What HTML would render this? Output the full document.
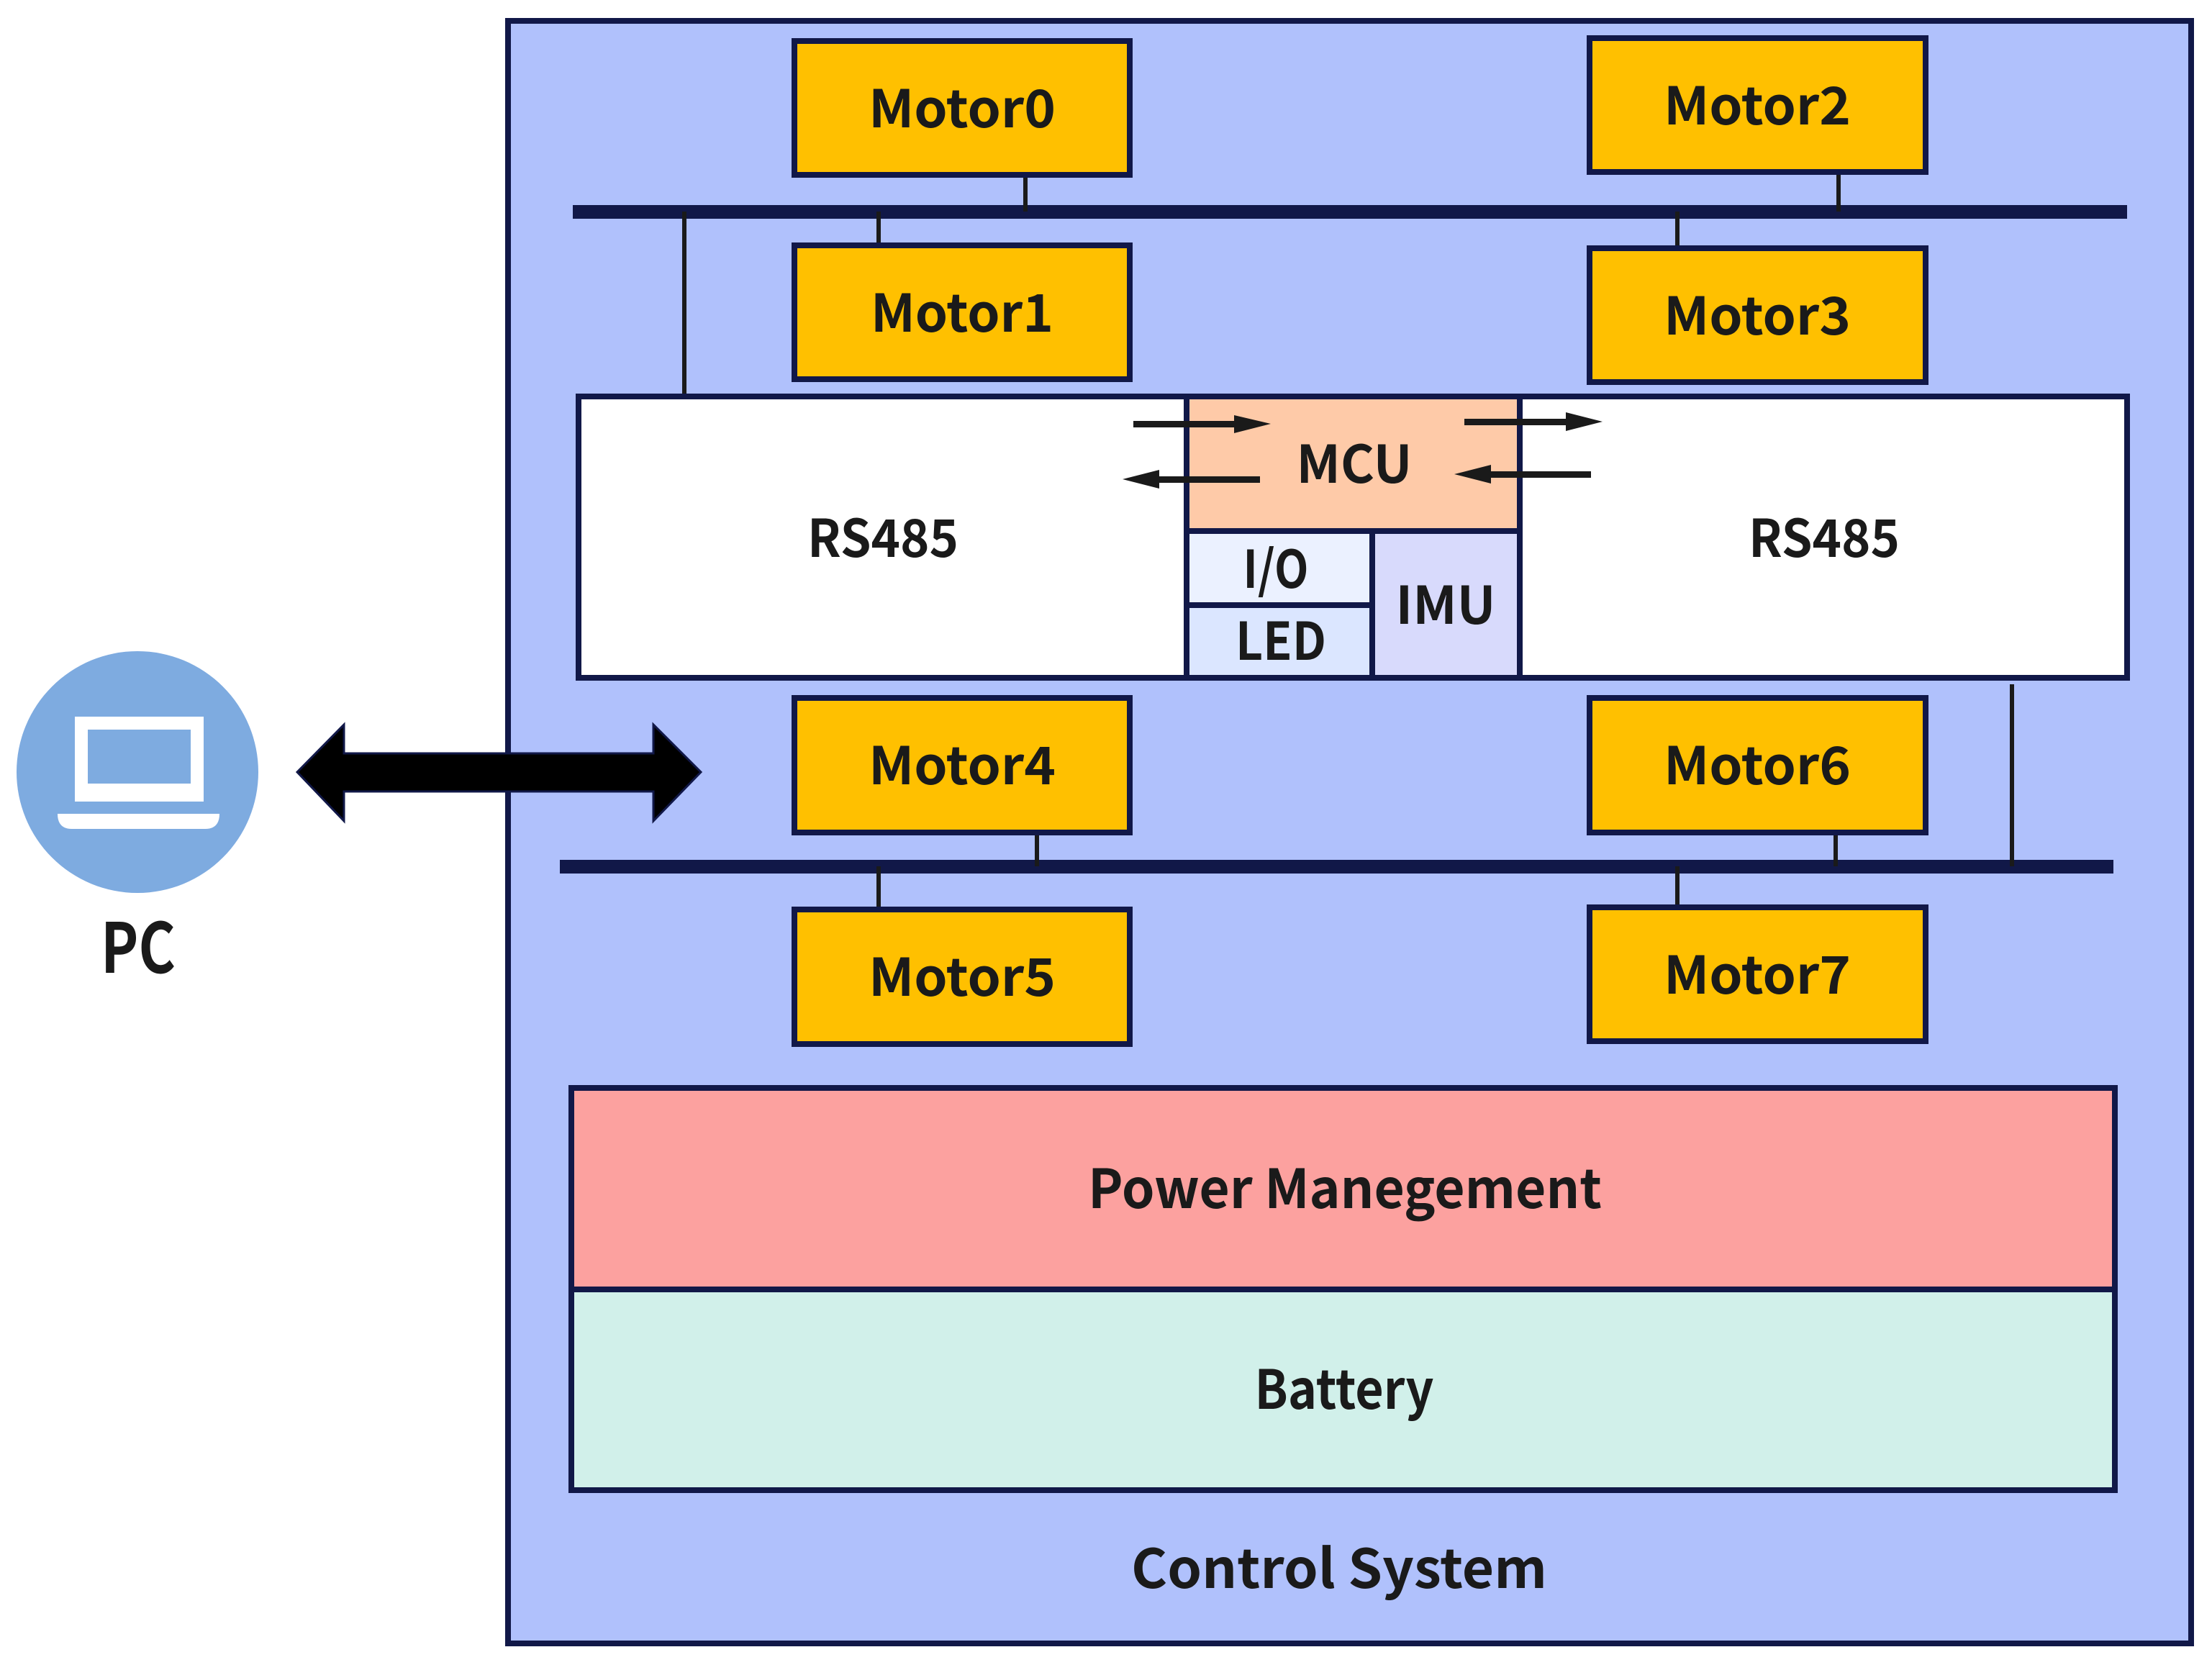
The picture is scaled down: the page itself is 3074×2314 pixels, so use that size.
<!DOCTYPE html>
<html><head><meta charset="utf-8"><style>html,body{margin:0;padding:0;background:#fff}svg{display:block}</style></head>
<body>
<svg width="3074" height="2314" viewBox="0 0 3074 2314" xmlns="http://www.w3.org/2000/svg" font-family="'Noto Sans CJK SC','Liberation Sans',sans-serif" font-weight="700" fill="#1a1a1a">
<rect x="0" y="0" width="3074" height="2314" fill="#fff"/>
<!-- outer -->
<rect x="706" y="29" width="2339" height="2255" fill="#b0c1fc" stroke="#111848" stroke-width="8"/>
<!-- buses -->
<rect x="796" y="285" width="2160" height="19" fill="#111848"/>
<rect x="778" y="1195" width="2159" height="19" fill="#111848"/>
<!-- connectors -->
<g stroke="#1a1a1a" stroke-width="6">
<line x1="951" y1="294" x2="951" y2="551"/>
<line x1="1425" y1="243" x2="1425" y2="294"/>
<line x1="1221" y1="294" x2="1221" y2="341"/>
<line x1="2555" y1="239" x2="2555" y2="294"/>
<line x1="2331" y1="294" x2="2331" y2="345"/>
<line x1="1441" y1="1157" x2="1441" y2="1204"/>
<line x1="1221" y1="1204" x2="1221" y2="1264"/>
<line x1="2551" y1="1157" x2="2551" y2="1204"/>
<line x1="2331" y1="1204" x2="2331" y2="1261"/>
<line x1="2796" y1="951" x2="2796" y2="1204"/>
</g>
<!-- motors -->
<g fill="#ffc000" stroke="#111848" stroke-width="8">
<rect x="1104" y="57" width="466" height="186"/>
<rect x="2209" y="53" width="467" height="186"/>
<rect x="1104" y="341" width="466" height="186"/>
<rect x="2209" y="345" width="467" height="186"/>
<rect x="1104" y="970" width="466" height="187"/>
<rect x="2209" y="970" width="467" height="187"/>
<rect x="1104" y="1264" width="466" height="187"/>
<rect x="2209" y="1261" width="467" height="186"/>
</g>
<g font-size="72" text-anchor="middle">
<text x="1337" y="177" textLength="260" lengthAdjust="spacingAndGlyphs">Motor0</text>
<text x="2442" y="173" textLength="260" lengthAdjust="spacingAndGlyphs">Motor2</text>
<text x="1337" y="461" textLength="254" lengthAdjust="spacingAndGlyphs">Motor1</text>
<text x="2442" y="465" textLength="260" lengthAdjust="spacingAndGlyphs">Motor3</text>
<text x="1337" y="1090" textLength="260" lengthAdjust="spacingAndGlyphs">Motor4</text>
<text x="2442" y="1090" textLength="260" lengthAdjust="spacingAndGlyphs">Motor6</text>
<text x="1337" y="1384" textLength="260" lengthAdjust="spacingAndGlyphs">Motor5</text>
<text x="2442" y="1381" textLength="260" lengthAdjust="spacingAndGlyphs">Motor7</text>
</g>
<!-- RS485 block -->
<rect x="804" y="551" width="2152" height="391" fill="#fff" stroke="#111848" stroke-width="8"/>
<rect x="1649" y="551" width="463" height="187" fill="#fecaa8" stroke="#111848" stroke-width="8"/>
<rect x="1649" y="738" width="258" height="103" fill="#ebf1ff" stroke="#111848" stroke-width="8"/>
<rect x="1649" y="841" width="258" height="101" fill="#dbe6ff" stroke="#111848" stroke-width="8"/>
<rect x="1907" y="738" width="205" height="204" fill="#d8dafc" stroke="#111848" stroke-width="8"/>
<g font-size="72" text-anchor="middle">
<text x="1227" y="774" textLength="210" lengthAdjust="spacingAndGlyphs">RS485</text>
<text x="2535" y="774" textLength="210" lengthAdjust="spacingAndGlyphs">RS485</text>
<text x="1882" y="671" textLength="161" lengthAdjust="spacingAndGlyphs">MCU</text>
<text x="1773" y="817" textLength="91" lengthAdjust="spacingAndGlyphs">I/O</text>
<text x="1780" y="917" textLength="126" lengthAdjust="spacingAndGlyphs">LED</text>
<text x="2009" y="867" textLength="139" lengthAdjust="spacingAndGlyphs">IMU</text>
</g>
<!-- MCU arrows -->
<g fill="#1a1a1a">
<rect x="1575" y="585" width="145" height="9"/><polygon points="1715,577 1766,589 1715,602"/>
<rect x="1611" y="662" width="140" height="9"/><polygon points="1611,653 1560,666 1611,679"/>
<rect x="2035" y="582" width="145" height="9"/><polygon points="2176,573 2227,586 2176,599"/>
<rect x="2068" y="655" width="143" height="9"/><polygon points="2072,646 2021,659 2072,672"/>
</g>
<!-- PC -->
<circle cx="191" cy="1073" r="168" fill="#7eabe0"/>
<rect x="104" y="996" width="179" height="118" fill="#fff"/>
<rect x="122" y="1014" width="143" height="75" fill="#7eabe0"/>
<path d="M80,1131 H305 Q305,1152 285,1152 H100 Q80,1152 80,1131 Z" fill="#fff"/>
<text x="192" y="1352" font-size="96" text-anchor="middle" textLength="104" lengthAdjust="spacingAndGlyphs">PC</text>
<!-- double arrow -->
<polygon points="413,1073 478,1007 478,1047 908,1047 908,1007 974,1073 908,1141 908,1100 478,1100 478,1141" fill="#000" stroke="#111848" stroke-width="3"/>
<!-- power & battery -->
<rect x="794" y="1512" width="2145" height="280" fill="#fca19f" stroke="#111848" stroke-width="8"/>
<rect x="794" y="1792" width="2145" height="279" fill="#d1f0ea" stroke="#111848" stroke-width="8"/>
<g font-size="75" text-anchor="middle">
<text x="1869" y="1679" textLength="714" lengthAdjust="spacingAndGlyphs">Power Manegement</text>
<text x="1868" y="1958" textLength="249" lengthAdjust="spacingAndGlyphs">Battery</text>
<text x="1861" y="2207" textLength="578" lengthAdjust="spacingAndGlyphs">Control System</text>
</g>
</svg>
</body></html>
